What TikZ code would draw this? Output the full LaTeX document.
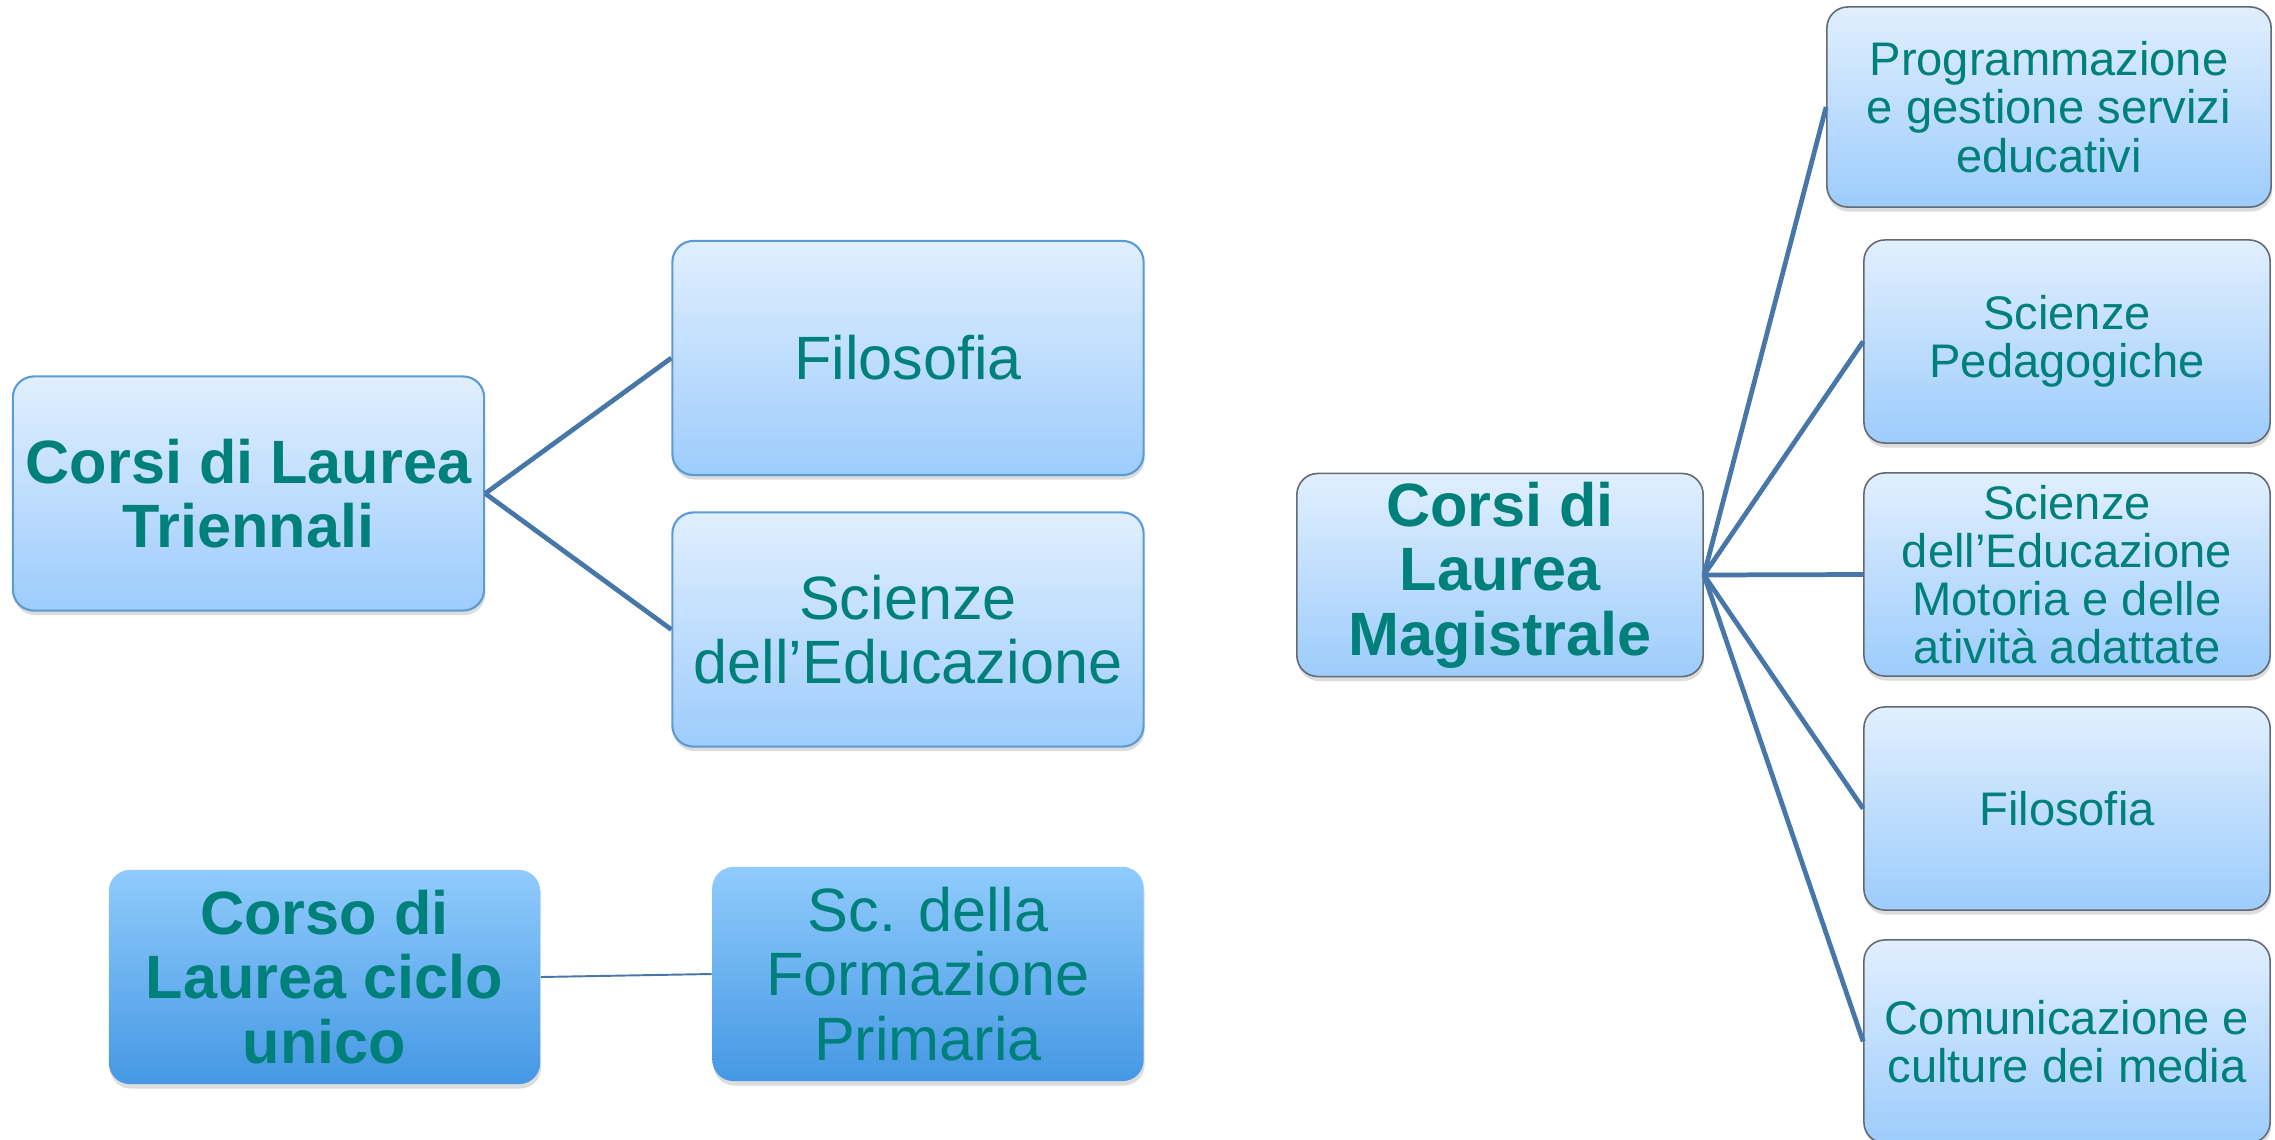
\documentclass[tikz,border=0pt]{standalone}
\usepackage{fontspec}
\setmainfont{Liberation Sans}
\usetikzlibrary{shadows}

\definecolor{txtteal}{HTML}{00807A}
\definecolor{boxtop}{HTML}{E1EFFE}
\definecolor{boxbot}{HTML}{9DCCFC}
\definecolor{darktop}{HTML}{90CBFC}
\definecolor{darkbot}{HTML}{4598E4}
\definecolor{lineblue}{HTML}{4677A8}
\definecolor{edgeblue}{HTML}{5B9BD5}
\definecolor{edgegray}{HTML}{626A73}

\newcommand{\lalign}{908}
\newcommand{\ralign}{2067}

\begin{document}
\begin{tikzpicture}[x=0.01cm, y=-0.01cm,
  box/.style={rounded corners=0.21cm, inner sep=0pt, align=center, text=txtteal,
              top color=boxtop, bottom color=boxbot,
              drop shadow={shadow xshift=0.01cm, shadow yshift=-0.045cm, opacity=0.28}},
  lbox/.style={box, draw=edgeblue, line width=0.6pt, minimum width=4.71cm, minimum height=2.34cm},
  rbox/.style={box, draw=edgegray, line width=0.45pt, minimum width=4.06cm, minimum height=2.03cm},
  cbox/.style={box, top color=darktop, bottom color=darkbot, minimum width=4.31cm, minimum height=2.14cm},
  bigtxt/.style={font=\fontsize{17.4}{18.3}\selectfont},
  roottxt/.style={font=\fontsize{17.4}{18.3}\selectfont\bfseries},
  smalltxt/.style={font=\fontsize{13.4}{13.7}\selectfont},
  link/.style={draw=lineblue, line width=1.35pt},
]
\useasboundingbox (0,0) rectangle (2275,1139);

%% triennali
\node[lbox, roottxt] (tri) at (248.5,493.5) {Corsi di Laurea\\Triennali};
\node[lbox, bigtxt] (filL) at (\lalign,358) {Filosofia};
\node[lbox, bigtxt] (sciL) at (\lalign,629.5) {Scienze\\dell’Educazione};
\draw[link] (tri.east) -- (filL.west);
\draw[link] (tri.east) -- (sciL.west);

%% ciclo unico
\node[cbox, roottxt] (cic) at (324.5,977) {Corso di\\Laurea ciclo\\unico};
\node[cbox, bigtxt] (form) at (928,974) {Sc. della\\Formazione\\Primaria};
\draw[draw=lineblue, line width=0.55pt] (cic.east) -- (form.west);

%% magistrale
\node[rbox, roottxt] (mag) at (1500,575) {Corsi di\\Laurea\\Magistrale};
\node[rbox, smalltxt, minimum width=4.44cm, minimum height=2.0cm] (prog) at (2049,107)
     {Programmazione\\e gestione servizi\\educativi};
\node[rbox, smalltxt] (ped) at (\ralign,341.5) {Scienze\\Pedagogiche};
\node[rbox, smalltxt] (mot) at (\ralign,574.5)
     {Scienze\\dell’Educazione\\Motoria e delle\\atività adattate};
\node[rbox, smalltxt] (filR) at (\ralign,808.5) {Filosofia};
\node[rbox, smalltxt] (com) at (\ralign,1041.5) {Comunicazione e\\culture dei media};
\foreach \n in {prog,ped,mot,filR,com}
  \draw[link] (mag.east) -- (\n.west);

\end{tikzpicture}
\end{document}
